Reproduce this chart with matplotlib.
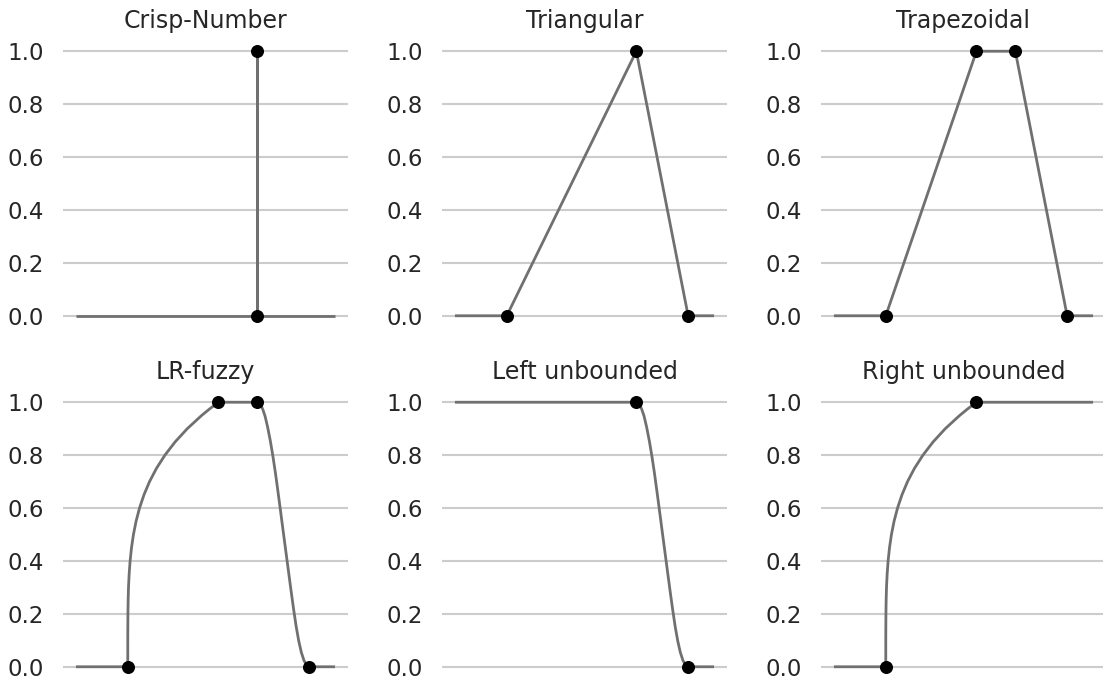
import matplotlib
matplotlib.use("Agg")
import matplotlib.pyplot as plt

# membership function data
titles = ["Crisp-Number", "Triangular", "Trapezoidal",
          "LR-fuzzy", "Left unbounded", "Right unbounded"]
y_ticks = [0.0, 0.2, 0.4, 0.6, 0.8, 1.0]

crisp_x = [0, 7, 7, 7, 10]
crisp_y = [0, 0, 1, 0, 0]
crisp_pts_x = [7, 7]
crisp_pts_y = [0, 1]

tri_x = [0, 2, 7, 9, 10]
tri_y = [0, 0, 1, 0, 0]
tri_pts_x = [2, 7, 9]
tri_pts_y = [0, 1, 0]

trap_x = [0, 2, 5.5, 7, 9, 10]
trap_y = [0, 0, 1, 1, 0, 0]
trap_pts_x = [2, 5.5, 7, 9]
trap_pts_y = [0, 1, 1, 0]

# rising edge (2 -> 5.5) and falling edge (7 -> 9)
rise_x = [2.0, 2.0, 2.0, 2.002, 2.006, 2.014, 2.028, 2.053, 2.09, 2.144, 2.219,
          2.32, 2.454, 2.625, 2.84, 3.107, 3.434, 3.827, 4.296, 4.851, 5.163, 5.5]
rise_y = [0.0, 0.05, 0.1, 0.15, 0.2, 0.25, 0.3, 0.35, 0.4, 0.45, 0.5,
          0.55, 0.6, 0.65, 0.7, 0.75, 0.8, 0.85, 0.9, 0.95, 0.975, 1.0]
fall_x = [7.0, 7.1, 7.2, 7.3, 7.4, 7.5, 7.6, 7.7, 7.8, 7.9, 8.0,
          8.1, 8.2, 8.3, 8.4, 8.5, 8.6, 8.7, 8.8, 8.9, 9.0]
fall_y = [1.0, 0.994, 0.976, 0.947, 0.905, 0.855, 0.797, 0.732, 0.660, 0.586, 0.511,
          0.437, 0.363, 0.289, 0.218, 0.152, 0.097, 0.054, 0.024, 0.006, 0.0]

lr_x = [0] + rise_x + fall_x + [10]
lr_y = [0] + rise_y + fall_y + [0]
lr_pts_x = [2, 5.5, 7, 9]
lr_pts_y = [0, 1, 1, 0]

left_x = [0] + fall_x + [10]
left_y = [1] + fall_y + [0]
left_pts_x = [7, 9]
left_pts_y = [1, 0]

right_x = [0] + rise_x + [10]
right_y = [0] + rise_y + [1]
right_pts_x = [2, 5.5]
right_pts_y = [0, 1]

panels = [
    (crisp_x, crisp_y, crisp_pts_x, crisp_pts_y),
    (tri_x, tri_y, tri_pts_x, tri_pts_y),
    (trap_x, trap_y, trap_pts_x, trap_pts_y),
    (lr_x, lr_y, lr_pts_x, lr_pts_y),
    (left_x, left_y, left_pts_x, left_pts_y),
    (right_x, right_y, right_pts_x, right_pts_y),
]

W, H = 1103, 682
fig = plt.figure(figsize=(W / 100, H / 100), dpi=100)
plt.rcParams['font.family'] = ['DejaVu Sans']

lefts = [63, 442, 821]
tops = [38, 389]
aw, ah = 285, 291

for i, (title, (x, y, px, py)) in enumerate(zip(titles, panels)):
    r, c = divmod(i, 3)
    ax = fig.add_axes([lefts[c] / W, 1 - (tops[r] + ah) / H, aw / W, ah / H])
    ax.plot(x, y, color="#707070", lw=2, zorder=2, solid_capstyle="butt",
            solid_joinstyle="round")
    ax.scatter(px, py, s=70, color="black", zorder=3, clip_on=False)
    ax.set_xlim(-0.5, 10.5)
    ax.set_ylim(-0.05, 1.05)
    ax.set_yticks(y_ticks)
    ax.set_yticklabels([f"{t:.1f}" for t in y_ticks])
    ax.set_xticks([])
    ax.grid(axis="y", color="#cccccc", lw=1.5, zorder=0)
    ax.set_axisbelow(True)
    for s in ax.spines.values():
        s.set_visible(False)
    ax.tick_params(axis="y", length=0, pad=14, labelsize=16.5, labelcolor="#262626")
    ax.set_title(title, fontsize=17, color="#262626", pad=7)

fig.savefig("out.png", dpi=100)
